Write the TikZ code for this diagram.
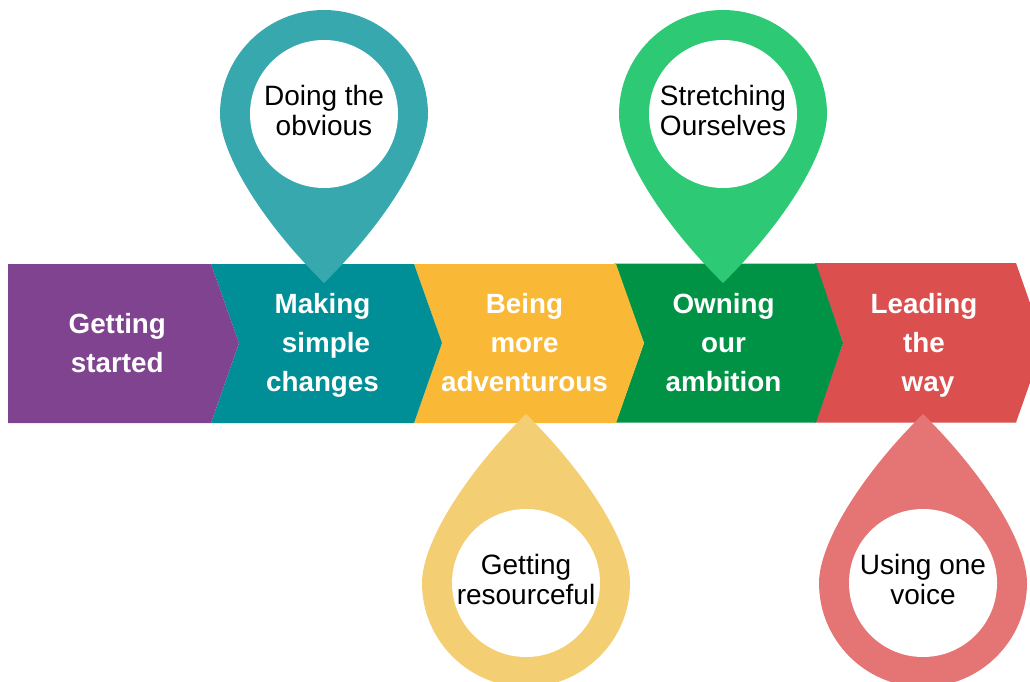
\documentclass[tikz,border=0pt]{standalone}
\usepackage{fontspec}
\setmainfont{Liberation Sans}
\definecolor{cpurple}{HTML}{80438F}
\definecolor{cteal}{HTML}{008F96}
\definecolor{cyellow}{HTML}{F9B835}
\definecolor{cgreen}{HTML}{009345}
\definecolor{cred}{HTML}{DB504F}
\definecolor{pteal}{HTML}{38A8AF}
\definecolor{pgreen}{HTML}{2DC974}
\definecolor{pyellow}{HTML}{F4CE72}
\definecolor{pred}{HTML}{E57575}
% pin: #1 cx, #2 cy, #3 direction (+1 tip down, -1 tip up), #4 colour
\newcommand{\pin}[4]{%
  \fill[#4] (#1-104,#2) arc[start angle=180,end angle=0,x radius=104,y radius=-#3*104]
     .. controls (#1+104,#2+#3*40) and (#1+61,#2+#3*109) .. (#1,#2+#3*169)
     .. controls (#1-61,#2+#3*109) and (#1-104,#2+#3*40) .. cycle;
  \fill[white] (#1,#2) circle[radius=74];}
\tikzset{
  barlabel/.style={text=white,font=\fontsize{27.8}{39}\selectfont\bfseries,align=center,inner sep=0pt},
  pinlabel/.style={text=black,font=\fontsize{28}{30}\selectfont,align=center,inner sep=0pt}
}
\begin{document}
\begin{tikzpicture}[x=1pt,y=-1pt]
\useasboundingbox (0,0) rectangle (1030,682);
\clip (0,0) rectangle (1030,682);
\fill[cred] (815,263) -- (1016,263) -- (1044,343) -- (1016,422.5) -- (815,422.5) -- (843,343) -- cycle;
\fill[cgreen] (614,263.5) -- (816,263.5) -- (843,343) -- (816,422.5) -- (616,422.5) -- (644,343) -- cycle;
\fill[cyellow] (414,264) -- (616,264) -- (644,343) -- (616,423) -- (414,423) -- (442,343) -- cycle;
\fill[cteal] (211,264) -- (414,264) -- (442,343) -- (414,423) -- (211,423) -- (239,343) -- cycle;
\fill[cpurple] (8,264) -- (211,264) -- (239,343) -- (211,423) -- (8,423) -- cycle;
\pin{324}{114}{1}{pteal}
\pin{723}{114}{1}{pgreen}
\pin{526}{583}{-1}{pyellow}
\pin{923}{583}{-1}{pred}
\node[barlabel] (started) at (117.3,343) {Getting\\started};
\node[barlabel] (making) at (322.5,345) {Making\\\hspace*{7pt}simple\\changes};
\node[barlabel] (being) at (524.5,343) {Being\\more\\adventurous};
\node[barlabel] (owning) at (723.5,343) {Owning\\our\\ambition};
\node[barlabel] (leading) at (924,345) {Leading\\the\\\hspace*{8pt}way};
\node[pinlabel] (doing) at (324,110) {Doing the\\obvious};
\node[pinlabel] (stretching) at (723,110) {Stretching\\Ourselves};
\node[pinlabel] (resourceful) at (526,579) {Getting\\resourceful};
\node[pinlabel] (voice) at (923,579) {Using one\\voice};
\end{tikzpicture}
\end{document}
